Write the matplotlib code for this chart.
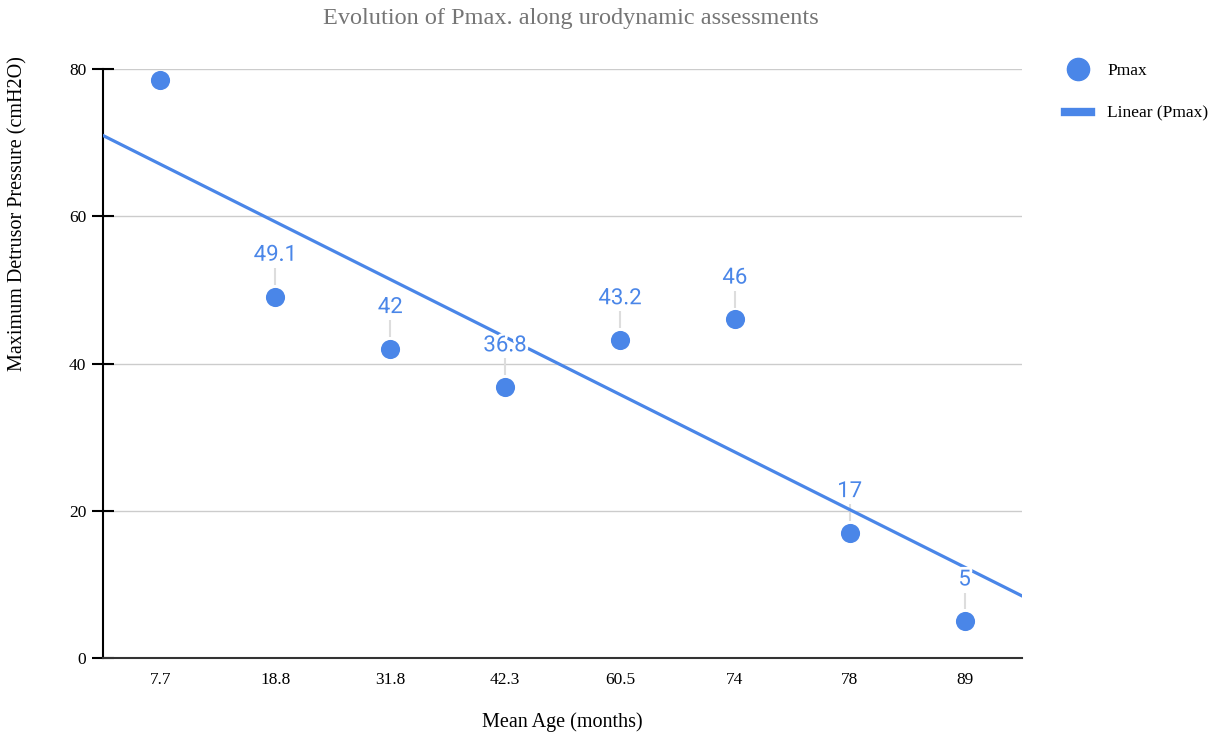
import numpy as np
import matplotlib
matplotlib.use("Agg")
import matplotlib.pyplot as plt
import matplotlib.patheffects as pe
from matplotlib.lines import Line2D

# data
ages = ["7.7", "18.8", "31.8", "42.3", "60.5", "74", "78", "89"]
pmax = [78.5, 49.1, 42, 36.8, 43.2, 46, 17, 5]
y_ticks = [0, 20, 40, 60, 80]

blue = "#4a86e8"
serif = "Liberation Serif"

fig = plt.figure(figsize=(12.15, 7.34), dpi=100)
ax = fig.add_axes([0.0848, 0.1035, 0.7564, 0.8025])

x = np.arange(len(ages))
y = np.array(pmax)

ax.scatter(x, y, s=190, color=blue, zorder=4, linewidths=0)

# linear trendline over category index
slope, icpt = np.polyfit(x, y, 1)
xt = np.array([-0.5, len(ages) - 0.5])
ax.plot(xt, slope * xt + icpt, color=blue, lw=2.3, zorder=3)

# data labels with leader lines
for i, v in zip(x, y):
    if v + 7 > 80:
        continue
    ax.vlines(i, v + 1.6, v + 3.9, color="#dddddd", lw=1.5, zorder=2)
    ax.text(i, v + 5.6, f"{v:g}", ha="center", va="center", fontsize=16,
            family="Roboto", color=blue, zorder=5,
            path_effects=[pe.withStroke(linewidth=4, foreground="white")])

ax.set_xlim(-0.5, len(ages) - 0.5)
ax.set_ylim(0, 80)
ax.set_yticks(y_ticks)
ax.set_xticks(x)
ax.set_xticklabels(ages)
ax.grid(axis="y", color="#cccccc", lw=1)
ax.set_axisbelow(True)

for s in ["top", "right"]:
    ax.spines[s].set_visible(False)
ax.spines["left"].set_color("black")
ax.spines["left"].set_linewidth(1.5)
ax.spines["bottom"].set_color("#333333")
ax.spines["bottom"].set_linewidth(1.5)
ax.tick_params(axis="y", direction="inout", length=16, width=1.5, pad=4)
ax.tick_params(axis="x", length=0, pad=10)
for lab in ax.get_xticklabels() + ax.get_yticklabels():
    lab.set_family(serif)
    lab.set_fontsize(12.5)

ax.set_xlabel("Mean Age (months)", family=serif, fontsize=14.5, va="center")
ax.xaxis.set_label_coords(0.5, -0.1087)
ax.set_ylabel("Maximum Detrusor Pressure (cmH2O)", family=serif, fontsize=14.5, va="center")
ax.yaxis.set_label_coords(-0.0925, 0.755)
fig.suptitle("Evolution of Pmax. along urodynamic assessments", x=0.47, y=0.975,
             va="center", family=serif, fontsize=17.5, color="#757575")

handles = [Line2D([], [], marker="o", ls="", color=blue, markersize=16),
           Line2D([], [], color=blue, lw=6)]
leg = fig.legend(handles, ["Pmax", "Linear (Pmax)"], loc="upper left",
                 bbox_to_anchor=(0.864, 0.935), frameon=False, handlelength=1.5,
                 labelspacing=1.5, handletextpad=0.9, prop={"family": serif, "size": 12.5})

fig.savefig("out.png", dpi=100)
